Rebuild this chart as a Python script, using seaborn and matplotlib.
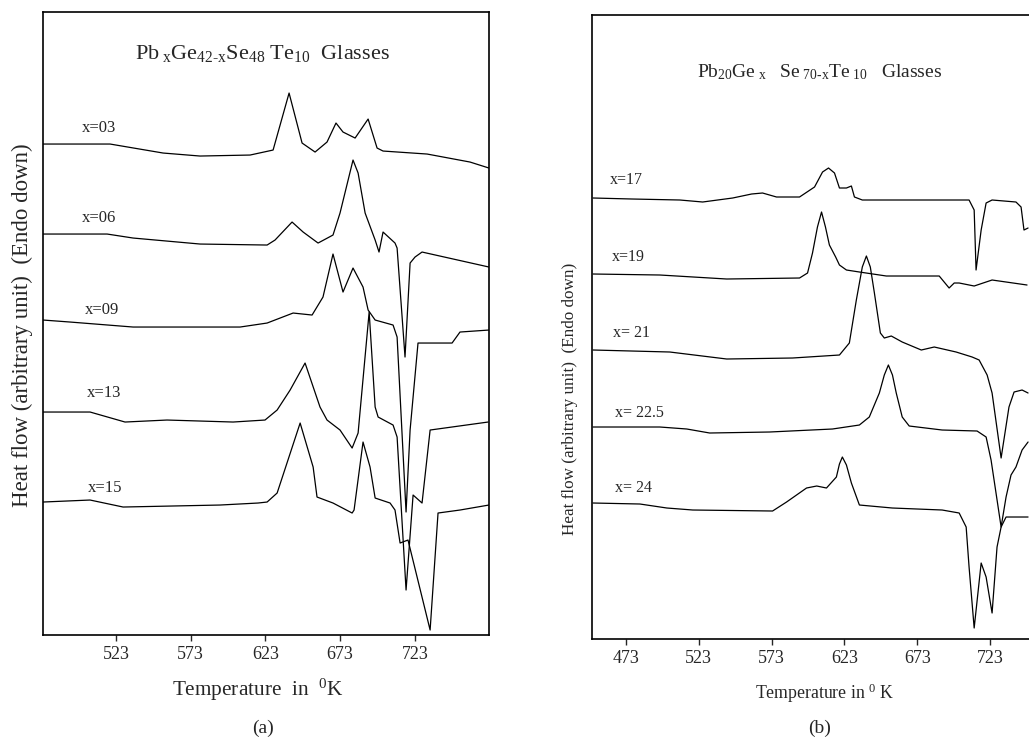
import matplotlib
matplotlib.use("Agg")
import matplotlib.pyplot as plt
import seaborn as sns

# ? panel (a): Pb_x Ge_42-x Se_48 Te_10, temperature in K, heat flow in arbitrary units
t_03 = [474.1, 519.0, 554.5, 579.2, 612.7, 628.1, 638.8, 647.5, 656.2, 664.2, 670.2,
        674.9, 683.0, 691.7, 697.7, 701.7, 731.2, 759.9, 772.6]
hf_03 = [4.91, 4.91, 4.82, 4.79, 4.80, 4.85, 5.42, 4.92, 4.83, 4.93, 5.12,
         5.03, 4.97, 5.16, 4.87, 4.84, 4.81, 4.73, 4.67]

t_06 = [474.1, 517.0, 534.4, 579.2, 624.1, 629.4, 640.8, 648.2, 658.2, 668.2, 672.9, 681.6,
        685.0, 689.7, 696.4, 699.0, 701.7, 709.7, 711.1, 716.4, 719.8, 723.1, 727.8, 772.6]
hf_06 = [4.01, 4.01, 3.97, 3.91, 3.90, 3.95, 4.13, 4.03, 3.92, 4.00, 4.22, 4.75,
         4.62, 4.22, 3.95, 3.83, 4.03, 3.92, 3.87, 2.78, 3.72, 3.78, 3.83, 3.68]

t_09 = [474.1, 492.2, 534.4, 606.0, 624.1, 641.5, 654.2, 661.5, 668.2, 674.9, 681.6,
        688.3, 691.7, 696.4, 708.4, 711.1, 717.1, 719.8, 725.1, 747.9, 753.2, 772.6]
hf_09 = [3.15, 3.13, 3.08, 3.08, 3.12, 3.22, 3.20, 3.38, 3.81, 3.43, 3.67,
         3.48, 3.25, 3.15, 3.10, 2.98, 1.23, 2.05, 2.92, 2.92, 3.03, 3.05]

t_13 = [474.1, 505.6, 529.0, 557.1, 601.3, 622.7, 630.8, 639.5, 649.5, 659.5, 664.2, 672.9,
        681.0, 685.0, 692.4, 696.4, 698.4, 708.4, 711.1, 717.1, 721.8, 727.8, 733.2, 772.0]
hf_13 = [2.23, 2.23, 2.13, 2.15, 2.13, 2.15, 2.25, 2.45, 2.72, 2.28, 2.15, 2.05,
         1.87, 2.02, 3.23, 2.28, 2.18, 2.10, 1.98, 0.45, 1.40, 1.32, 2.05, 2.13]

t_15 = [474.1, 505.6, 527.7, 592.6, 618.0, 624.1, 630.8, 637.4, 646.2, 654.9, 657.5, 668.2, 681.0,
        682.3, 688.3, 693.0, 696.4, 706.4, 709.7, 713.1, 718.4, 733.2, 738.5, 753.2, 772.6]
hf_15 = [1.33, 1.35, 1.28, 1.30, 1.32, 1.33, 1.42, 1.72, 2.12, 1.68, 1.38, 1.32, 1.22,
         1.25, 1.93, 1.68, 1.37, 1.32, 1.25, 0.92, 0.95, 0.05, 1.22, 1.25, 1.30]

# ? panel (b): Pb_20 Ge_x Se_70-x Te_10
t_17 = [450.4, 477.1, 510.0, 525.7, 546.3, 559.3, 566.8, 576.4, 592.2, 602.5, 608.0, 612.1, 616.2,
        619.6, 624.4, 627.8, 629.9, 635.3, 655.9, 708.6, 712.1, 713.4, 716.9, 720.3, 724.4, 740.8,
        744.3, 746.3, 749.1]
hf_17 = [4.41, 4.40, 4.39, 4.37, 4.41, 4.45, 4.46, 4.42, 4.42, 4.52, 4.67, 4.71, 4.66,
         4.51, 4.51, 4.53, 4.42, 4.39, 4.39, 4.39, 4.29, 3.69, 4.09, 4.36, 4.39, 4.37,
         4.32, 4.09, 4.11]

t_19 = [450.4, 496.3, 542.2, 592.2, 597.7, 601.1, 604.5, 607.3, 610.0, 612.7, 617.0, 619.6, 624.4,
        633.3, 651.8, 688.1, 694.9, 698.4, 701.8, 712.1, 724.4, 748.4]
hf_19 = [3.65, 3.64, 3.60, 3.61, 3.66, 3.86, 4.12, 4.27, 4.12, 3.94, 3.82, 3.74, 3.69,
         3.67, 3.63, 3.63, 3.51, 3.56, 3.56, 3.53, 3.59, 3.54]

t_21 = [450.4, 503.1, 542.2, 587.4, 619.6, 626.4, 631.2, 635.3, 638.1, 640.8, 643.6, 647.7, 650.4,
        655.2, 662.7, 675.8, 684.7, 699.7, 710.7, 715.5, 721.0, 724.4, 730.6, 736.0, 739.5, 745.0, 749.1]
hf_21 = [2.89, 2.87, 2.80, 2.81, 2.84, 2.96, 3.39, 3.72, 3.83, 3.72, 3.46, 3.06, 3.01,
         3.03, 2.97, 2.89, 2.92, 2.87, 2.82, 2.79, 2.64, 2.46, 1.81, 2.32, 2.47, 2.49, 2.46]

t_225 = [450.4, 496.3, 514.8, 530.5, 571.6, 614.8, 633.3, 640.1, 647.0, 650.4, 653.2, 656.0, 658.6,
         662.7, 667.5, 690.1, 714.1, 720.3, 723.7, 727.1, 730.6, 734.0, 737.4, 740.8, 745.0, 749.1]
hf_225 = [2.12, 2.12, 2.10, 2.06, 2.07, 2.10, 2.14, 2.22, 2.46, 2.64, 2.74, 2.64, 2.46,
          2.22, 2.13, 2.09, 2.08, 2.02, 1.79, 1.46, 1.12, 1.42, 1.64, 1.72, 1.89, 1.97]

t_24 = [450.4, 482.6, 501.1, 518.9, 573.7, 583.3, 597.0, 604.0, 610.7, 617.5, 619.6, 621.6, 624.4,
        627.8, 633.3, 655.9, 690.1, 701.8, 706.6, 708.6, 712.1, 716.9, 720.3, 724.4, 727.8, 730.6,
        734.0, 749.1]
hf_24 = [1.36, 1.35, 1.31, 1.29, 1.28, 1.37, 1.51, 1.53, 1.51, 1.62, 1.75, 1.82, 1.74,
         1.56, 1.34, 1.31, 1.29, 1.26, 1.12, 0.72, 0.11, 0.76, 0.62, 0.26, 0.92, 1.12,
         1.22, 1.22]

labels_a = ["x=03", "x=06", "x=09", "x=13", "x=15"]
label_t_a = [500.2, 500.2, 502.3, 503.6, 504.3]
label_hf_a = [5.07, 4.17, 3.25, 2.42, 1.47]

labels_b = ["x=17", "x=19", "x= 21", "x= 22.5", "x= 24"]
label_t_b = [462.0, 463.4, 464.1, 465.5, 465.5]
label_hf_b = [4.59, 3.82, 3.06, 2.26, 1.51]

ticks_a = [523, 573, 623, 673, 723]
ticks_b = [473, 523, 573, 623, 673, 723]

sns.set_style("ticks")
plt.rcParams["font.family"] = ["Liberation Serif", "DejaVu Serif"]
plt.rcParams["mathtext.fontset"] = "custom"
plt.rcParams["mathtext.rm"] = "Liberation Serif"
plt.rcParams["mathtext.it"] = "Liberation Serif:italic"

fig = plt.figure(figsize=(10.29, 7.39), dpi=100)
ax_a = fig.add_axes([0.0418, 0.1407, 0.4334, 0.843])
ax_b = fig.add_axes([0.5753, 0.1353, 0.4344, 0.8444])


def draw_curves(ax, curves):
    for t, hf in curves:
        sns.lineplot(x=t, y=hf, ax=ax, color="black", linewidth=0.9,
                     sort=False, estimator=None)


draw_curves(ax_a, [(t_03, hf_03), (t_06, hf_06), (t_09, hf_09), (t_13, hf_13), (t_15, hf_15)])
draw_curves(ax_b, [(t_17, hf_17), (t_19, hf_19), (t_21, hf_21), (t_225, hf_225), (t_24, hf_24)])

for ax, ticks, xlim, ylim in [(ax_a, ticks_a, (474.1, 772.6), (0, 6.23)),
                              (ax_b, ticks_b, (449.7, 756.6), (0, 6.24))]:
    ax.set_xlim(*xlim)
    ax.set_ylim(*ylim)
    ax.set_xticks(ticks)
    ax.set_yticks([])
    ax.set_xlabel("")
    ax.set_ylabel("")
    ax.tick_params(axis="x", direction="out", length=4, width=1, labelsize=13, pad=4)
    for s in ax.spines.values():
        s.set_linewidth(1.2)
        s.set_color("black")

for lab, t, hf in zip(labels_a, label_t_a, label_hf_a):
    ax_a.text(t, hf, lab, fontsize=12, ha="left", va="center")
for lab, t, hf in zip(labels_b, label_t_b, label_hf_b):
    ax_b.text(t, hf, lab, fontsize=11.5, ha="left", va="center")

ax_a.text(0.493, 0.934, r"Pb$\mathrm{_{\ x}}$Ge$\mathrm{_{42\text{-}x}}$Se$\mathrm{_{48}}$ Te$\mathrm{_{10}}$  Glasses",
          transform=ax_a.transAxes, ha="center", va="center", fontsize=16)
ax_b.text(0.51, 0.909, r"Pb$\mathrm{_{20}}$Ge$\mathrm{_{\ x}}$   Se$\mathrm{_{\ 70\text{-}x}}$Te$\mathrm{_{\ 10}}$   Glasses",
          transform=ax_b.transAxes, ha="center", va="center", fontsize=14)

fig.text(258 / 1029, 1 - 690 / 739, r"Temperature  in  $\mathrm{^{0}}$K", ha="center", va="center", fontsize=15.3)
fig.text(825 / 1029, 1 - 693 / 739, r"Temperature in $\mathrm{^{0}}$ K", ha="center", va="center", fontsize=12.8)
fig.text(22 / 1029, 1 - 325 / 739, "Heat flow (arbitrary unit)  (Endo down)", rotation=90,
         ha="center", va="center", fontsize=16.5)
fig.text(570 / 1029, 1 - 399 / 739, "Heat flow (arbitrary unit)  (Endo down)", rotation=90,
         ha="center", va="center", fontsize=12.3)
fig.text(263 / 1029, 1 - 728 / 739, "(a)", ha="center", va="center", fontsize=14)
fig.text(820 / 1029, 1 - 728 / 739, "(b)", ha="center", va="center", fontsize=14)

fig.savefig("out.png", dpi=100)
